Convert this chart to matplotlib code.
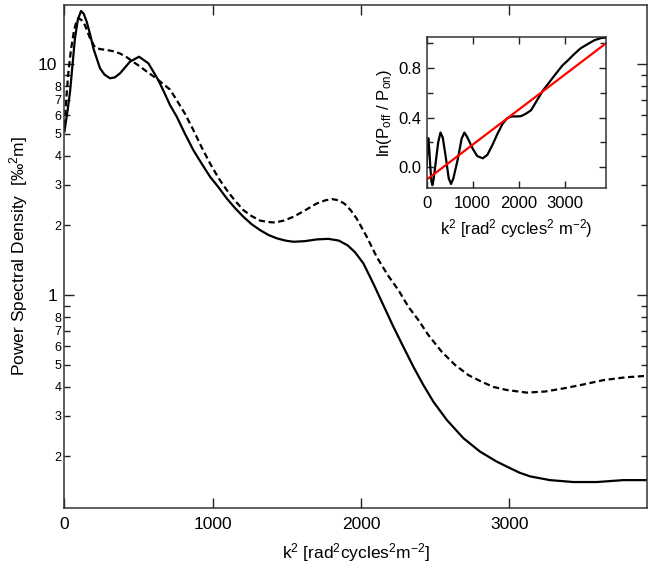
import matplotlib
matplotlib.use("Agg")
import matplotlib.pyplot as plt
import numpy as np
from matplotlib.ticker import FixedLocator, FuncFormatter, MultipleLocator, NullLocator, LogLocator

# ---- data ----
solid_k2 = [0, 20, 38, 71, 90, 112, 130, 150, 175, 195, 240, 270, 307, 340, 375, 442, 503, 566,
            633, 672, 712, 757, 812, 869, 926, 982, 1040, 1094, 1150, 1207, 1260, 1319, 1375,
            1431, 1490, 1544, 1620, 1701, 1780, 1850, 1910, 1960, 2016, 2083, 2150, 2218, 2285,
            2353, 2420, 2488, 2578, 2690, 2802, 2915, 3005, 3070, 3140, 3274, 3432, 3589, 3769,
            3930]
solid_psd = [5.1, 6.2, 7.59, 12.9, 15.5, 16.96, 16.5, 15.25, 13.3, 11.7, 9.58, 9.0, 8.67, 8.75,
             9.11, 10.23, 10.75, 10.07, 8.52, 7.55, 6.64, 5.92, 5.0, 4.24, 3.7, 3.25, 2.92, 2.62,
             2.38, 2.18, 2.03, 1.91, 1.82, 1.76, 1.72, 1.70, 1.71, 1.74, 1.75, 1.72, 1.64, 1.53,
             1.37, 1.12, 0.905, 0.729, 0.597, 0.489, 0.408, 0.345, 0.288, 0.24, 0.21, 0.19,
             0.178, 0.170, 0.164, 0.158, 0.155, 0.155, 0.158, 0.158]

dashed_k2 = [0, 15, 26, 44, 65, 80, 94, 115, 139, 173, 206, 240, 285, 330, 375, 420, 465, 510,
             555, 600, 645, 712, 757, 812, 869, 926, 982, 1040, 1094, 1150, 1207, 1260, 1319,
             1370, 1420, 1480, 1544, 1620, 1701, 1760, 1805, 1850, 1890, 1930, 1971, 2038, 2106,
             2180, 2252, 2319, 2386, 2454, 2544, 2634, 2724, 2814, 2892, 2982, 3117, 3240, 3364,
             3500, 3634, 3780, 3930]
dashed_psd = [5.4, 7.4, 9.1, 11.5, 14.0, 15.2, 15.8, 15.5, 14.7, 12.9, 11.8, 11.6, 11.5, 11.35,
              11.1, 10.7, 10.2, 9.75, 9.27, 8.85, 8.4, 7.75, 6.98, 6.1, 5.18, 4.35, 3.71, 3.2,
              2.85, 2.56, 2.33, 2.2, 2.10, 2.07, 2.06, 2.1, 2.18, 2.32, 2.49, 2.57, 2.60, 2.57,
              2.48, 2.33, 2.14, 1.79, 1.46, 1.22, 1.05, 0.89, 0.78, 0.671, 0.568, 0.498, 0.45,
              0.421, 0.40, 0.388, 0.378, 0.382, 0.394, 0.41, 0.428, 0.44, 0.447]

inset_k2 = [0, 15, 35, 55, 80, 105, 125, 150, 200, 250, 300, 350, 420, 480, 530, 580, 680, 760,
            820, 880, 1000, 1100, 1220, 1320, 1430, 1540, 1650, 1750, 1850, 1950, 2050, 2150,
            2271, 2400, 2530, 2635, 2800, 2950, 3072, 3200, 3350, 3508, 3650, 3800, 3900]
inset_lnratio = [0.0, 0.15, 0.235, 0.15, 0.0, -0.12, -0.145, -0.10, 0.05, 0.20, 0.28, 0.24, 0.07,
                 -0.09, -0.135, -0.09, 0.07, 0.23, 0.28, 0.245, 0.15, 0.09, 0.072, 0.10, 0.18,
                 0.27, 0.35, 0.395, 0.41, 0.41, 0.412, 0.43, 0.46, 0.54, 0.62, 0.67, 0.75, 0.82,
                 0.862, 0.91, 0.96, 0.995, 1.025, 1.043, 1.045]

fit_k2 = [0, 3900]
fit_lnratio = [-0.10, 1.0]

main_xticks = [0, 1000, 2000, 3000]
inset_xticks = [0, 1000, 2000, 3000]
inset_yticks = [0.0, 0.4, 0.8]

# ---- style ----
plt.rcParams['font.family'] = ['Liberation Sans', 'DejaVu Sans']
plt.rcParams['mathtext.fontset'] = 'custom'
plt.rcParams['mathtext.rm'] = 'Liberation Sans'
plt.rcParams['mathtext.it'] = 'Liberation Sans:italic'
plt.rcParams['mathtext.bf'] = 'Liberation Sans:bold'

fig = plt.figure(figsize=(6.54, 5.69), dpi=100)
ax = fig.add_axes([0.0985, 0.1077, 0.8912, 0.8835])

ax.plot(solid_k2, solid_psd, color='black', lw=1.6, solid_joinstyle='round')
ax.plot(dashed_k2, dashed_psd, color='black', lw=1.6, dashes=(2.8, 1.6))

ax.set_yscale('log')
ax.set_xlim(0, 3930)
ax.set_ylim(0.12, 18.0)

ax.yaxis.set_major_locator(FixedLocator([1, 10]))
ax.yaxis.set_major_formatter(FuncFormatter(lambda v, p: f"{v:g}"))
ax.yaxis.set_minor_locator(LogLocator(base=10, subs=np.arange(2, 10)))

def minor_fmt(v, p):
    e = np.floor(np.log10(v) + 1e-9)
    m = int(round(v / 10 ** e))
    return str(m) if 2 <= m <= 8 else ''

ax.yaxis.set_minor_formatter(FuncFormatter(minor_fmt))
ax.set_xticks(main_xticks)
ax.xaxis.set_minor_locator(NullLocator())

ax.tick_params(which='both', direction='in', top=True, right=True, width=1.0, color='#222222')
ax.tick_params(which='major', length=7.5, labelsize=12.5, pad=5)
ax.tick_params(which='minor', length=4.5, labelsize=9, pad=2)
ax.tick_params(axis='x', which='major', pad=7)
for s in ax.spines.values():
    s.set_linewidth(1.1)
    s.set_color('#333333')

ax.set_xlabel("k$^{2}$ [rad$^{2}$cycles$^{2}$m$^{\\mathrm{-2}}$]", fontsize=12.5, labelpad=6)
ax.set_ylabel("Power Spectral Density  [‰$^{2}$m]", fontsize=12.5, labelpad=6)

# ---- inset ----
ins = fig.add_axes([0.6524, 0.6701, 0.2742, 0.2643])
ins.plot(inset_k2, inset_lnratio, color='black', lw=1.6)
ins.plot(fit_k2, fit_lnratio, color='#ff0000', lw=1.6)
ins.set_xlim(0, 3900)
ins.set_ylim(-0.165, 1.048)
ins.set_xticks(inset_xticks)
ins.set_yticks(inset_yticks)
ins.yaxis.set_major_formatter(FuncFormatter(lambda v, p: f"{v:.1f}"))
ins.yaxis.set_minor_locator(MultipleLocator(0.2))
ins.tick_params(which='both', direction='in', top=True, right=True, width=1.0, color='#222222')
ins.tick_params(which='major', length=5, labelsize=12, pad=4)
ins.tick_params(which='minor', length=4)
ins.tick_params(axis='x', which='major', pad=6)
for s in ins.spines.values():
    s.set_linewidth(1.1)
    s.set_color('#333333')
ins.set_xlabel("k$^{2}$ [rad$^{2}$ cycles$^{2}$ m$^{\\mathrm{-2}}$)", fontsize=12, labelpad=4)
ins.set_ylabel("ln(P$_{\\mathrm{off}}$ / P$_{\\mathrm{on}}$)", fontsize=12, labelpad=3)

fig.savefig("out.png", dpi=100)
